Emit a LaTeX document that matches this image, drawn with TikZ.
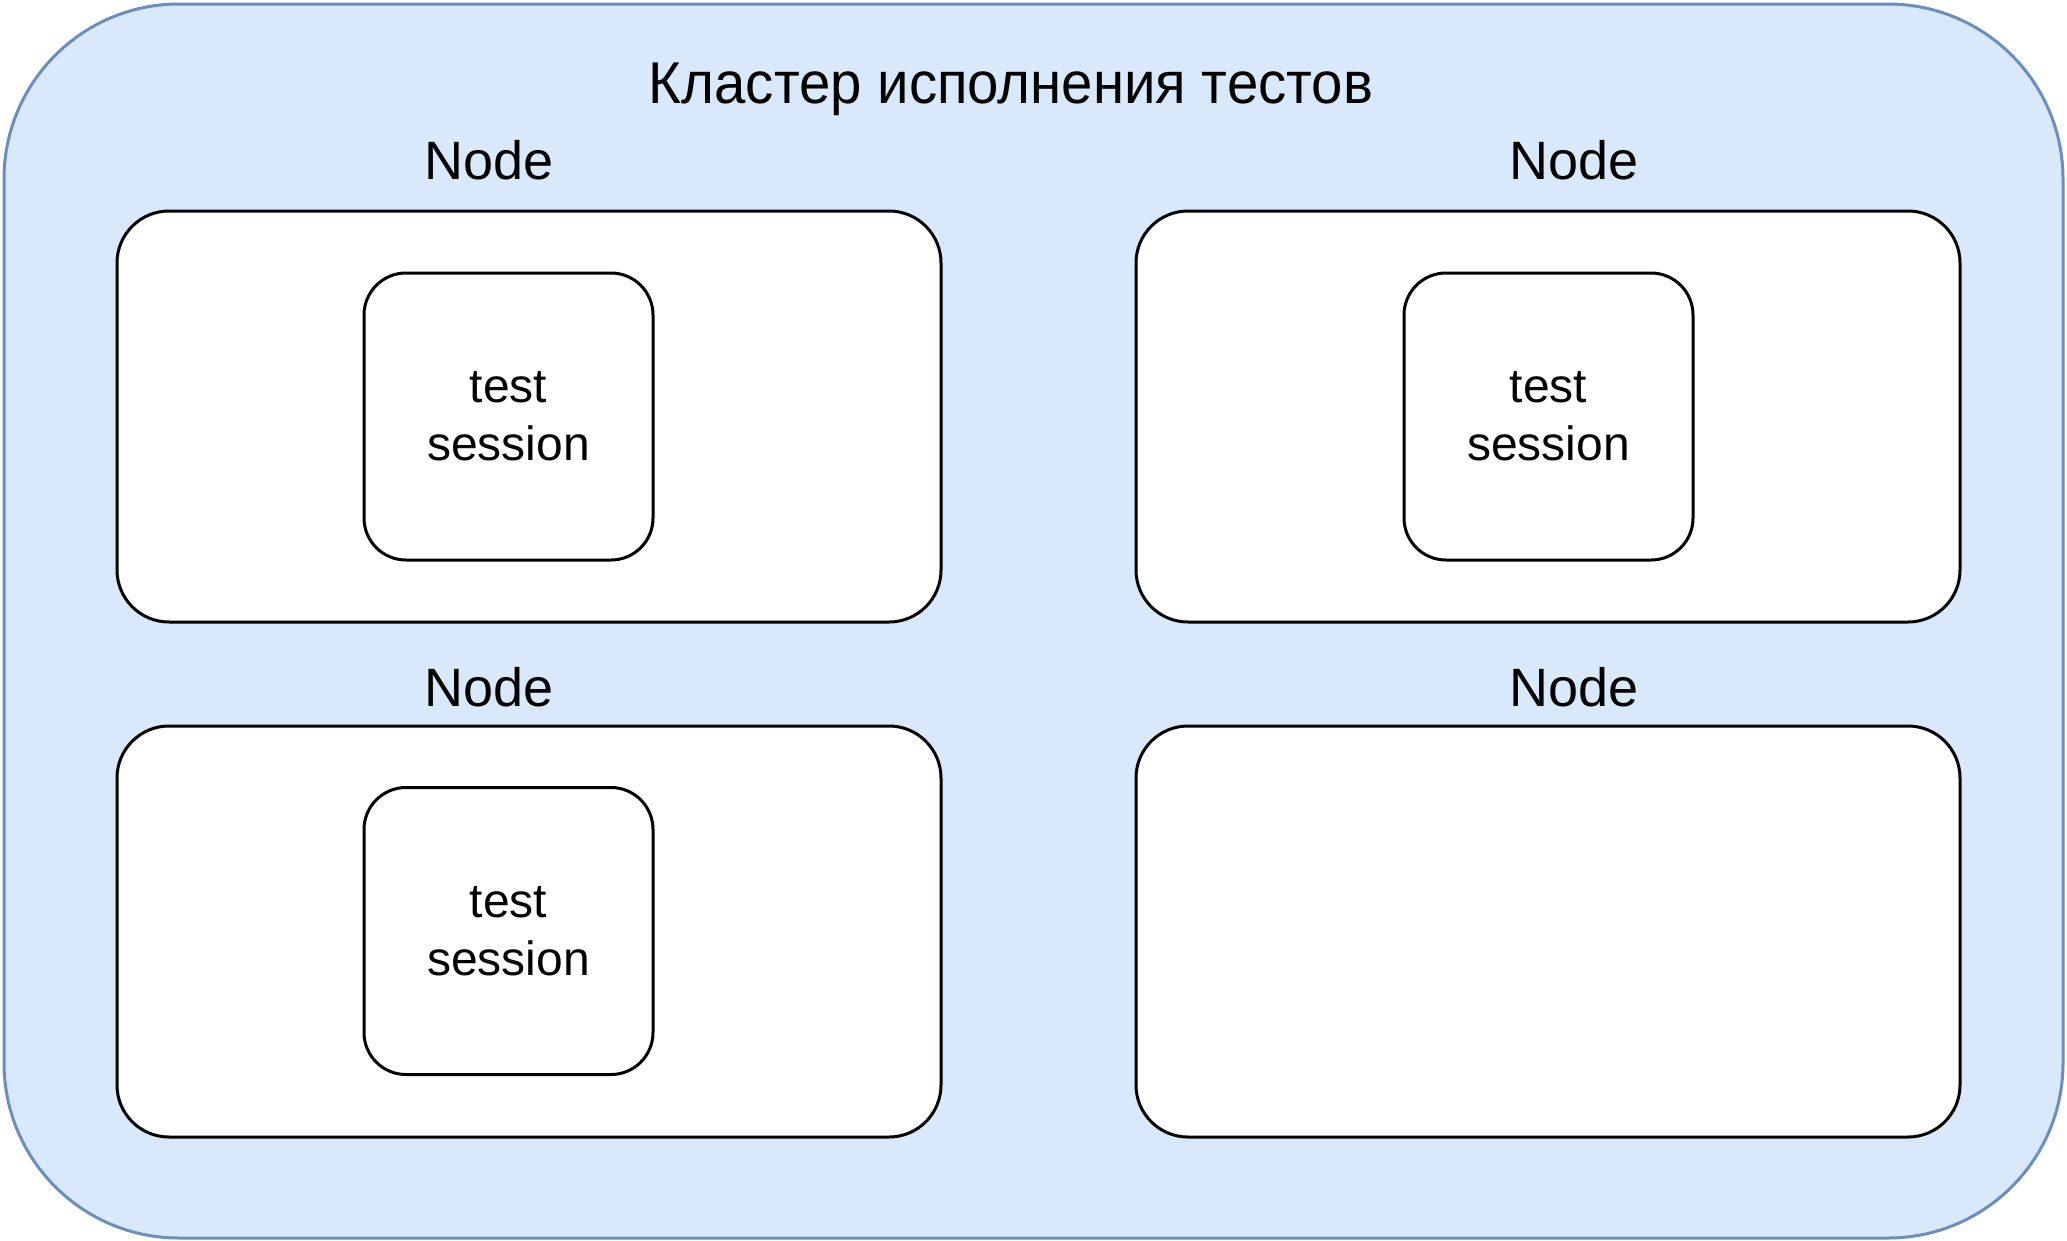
\documentclass[tikz,border=0pt]{standalone}
\usepackage{fontspec}
\setmainfont{Liberation Sans}
\definecolor{clusterfill}{HTML}{DAE8FC}
\definecolor{clusterline}{HTML}{6C8EBF}
\tikzset{
  cluster/.style={draw=clusterline, fill=clusterfill, line width=3pt, rounded corners=175pt},
  hostbox/.style={draw=black, fill=white, line width=3pt, rounded corners=52pt,
    minimum width=824pt, minimum height=411pt, inner sep=0pt},
  sessionbox/.style={draw=black, fill=white, line width=3pt, rounded corners=42pt,
    minimum width=289pt, minimum height=287pt, inner sep=0pt, align=center,
    font=\fontsize{48}{58}\selectfont},
  hostlabel/.style={font=\fontsize{54}{60}\selectfont, inner sep=0pt},
  titlelabel/.style={font=\fontsize{59}{66}\selectfont, inner sep=0pt}
}
\begin{document}
\begin{tikzpicture}[x=1pt, y=-1pt]
  \useasboundingbox (0,0) rectangle (2067,1240);

  % cluster container
  \draw[cluster] (4,4) rectangle (2063,1238);
  \node[titlelabel, xscale=0.955] (title) at (1011,89) {Кластер исполнения тестов};

  % worker hosts
  \node[hostbox] (h1) at (529,416.5) {};
  \node[hostbox] (h2) at (1548,416.5) {};
  \node[hostbox] (h3) at (529,931.5) {};
  \node[hostbox] (h4) at (1548,931.5) {};

  \node[hostlabel] (l1) at (489,160) {Node};
  \node[hostlabel] (l2) at (1574,160) {Node};
  \node[hostlabel] (l3) at (489,687) {Node};
  \node[hostlabel] (l4) at (1574,687) {Node};

  % running sessions
  \node[sessionbox] (s1) at (508.5,416.5) {test\\session};
  \node[sessionbox] (s2) at (1548.5,416.5) {test\\session};
  \node[sessionbox] (s3) at (508.5,931) {test\\session};
\end{tikzpicture}
\end{document}
